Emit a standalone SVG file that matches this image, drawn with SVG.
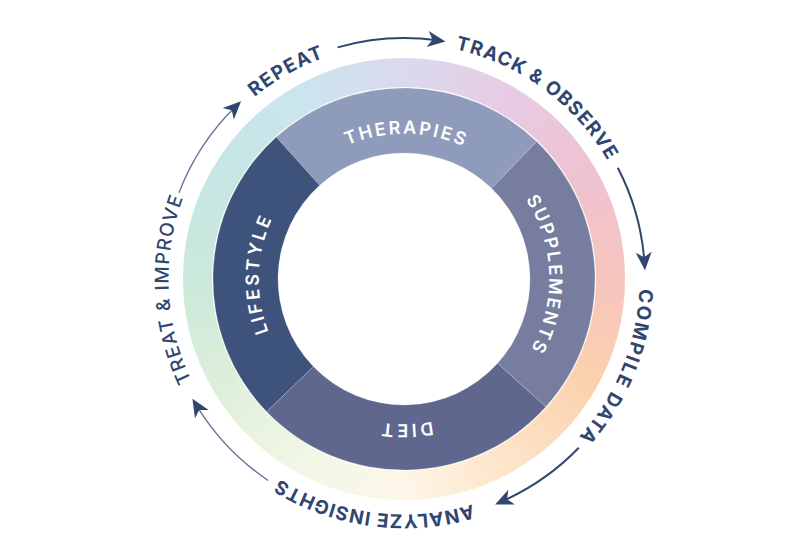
<svg xmlns="http://www.w3.org/2000/svg" xmlns:xlink="http://www.w3.org/1999/xlink" width="805" height="552" viewBox="0 0 805 552">
<style>
.seg{stroke:#ffffff;stroke-opacity:0.25;stroke-width:0.8}
.inlbl{font-family:Inter,"Noto Sans",sans-serif;font-size:18px;font-weight:600;fill:#ffffff}
.outlbl{font-family:Inter,"Noto Sans",sans-serif;font-size:19px;font-weight:700;fill:#2f4670}
.outlbl.light{font-weight:500}
.arr{fill:none;stroke:#2f4670;stroke-width:2}
.arr.thin{stroke:#66759a;stroke-width:1.4}
</style>
<defs>
<linearGradient id="g0" gradientUnits="userSpaceOnUse" x1="206.5" y1="0" x2="178.83" y2="103.25"><stop offset="0" stop-color="#f7c4bd"/><stop offset="1" stop-color="#fbd2ae"/></linearGradient>
<linearGradient id="g1" gradientUnits="userSpaceOnUse" x1="206.5" y1="0" x2="178.83" y2="103.25"><stop offset="0" stop-color="#fbd2ae"/><stop offset="1" stop-color="#fde4c9"/></linearGradient>
<linearGradient id="g2" gradientUnits="userSpaceOnUse" x1="206.5" y1="0" x2="178.83" y2="103.25"><stop offset="0" stop-color="#fde4c9"/><stop offset="1" stop-color="#fdf6e8"/></linearGradient>
<linearGradient id="g3" gradientUnits="userSpaceOnUse" x1="206.5" y1="0" x2="178.83" y2="103.25"><stop offset="0" stop-color="#fdf6e8"/><stop offset="1" stop-color="#f1f7e6"/></linearGradient>
<linearGradient id="g4" gradientUnits="userSpaceOnUse" x1="206.5" y1="0" x2="178.83" y2="103.25"><stop offset="0" stop-color="#f1f7e6"/><stop offset="1" stop-color="#ddefda"/></linearGradient>
<linearGradient id="g5" gradientUnits="userSpaceOnUse" x1="206.5" y1="0" x2="178.83" y2="103.25"><stop offset="0" stop-color="#ddefda"/><stop offset="1" stop-color="#cbe9da"/></linearGradient>
<linearGradient id="g6" gradientUnits="userSpaceOnUse" x1="206.5" y1="0" x2="178.83" y2="103.25"><stop offset="0" stop-color="#cbe9da"/><stop offset="1" stop-color="#c5e6e4"/></linearGradient>
<linearGradient id="g7" gradientUnits="userSpaceOnUse" x1="206.5" y1="0" x2="178.83" y2="103.25"><stop offset="0" stop-color="#c5e6e4"/><stop offset="1" stop-color="#cbe5ed"/></linearGradient>
<linearGradient id="g8" gradientUnits="userSpaceOnUse" x1="206.5" y1="0" x2="178.83" y2="103.25"><stop offset="0" stop-color="#cbe5ed"/><stop offset="1" stop-color="#dad9ee"/></linearGradient>
<linearGradient id="g9" gradientUnits="userSpaceOnUse" x1="206.5" y1="0" x2="178.83" y2="103.25"><stop offset="0" stop-color="#dad9ee"/><stop offset="1" stop-color="#e7cbe3"/></linearGradient>
<linearGradient id="g10" gradientUnits="userSpaceOnUse" x1="206.5" y1="0" x2="178.83" y2="103.25"><stop offset="0" stop-color="#e7cbe3"/><stop offset="1" stop-color="#efc2d2"/></linearGradient>
<linearGradient id="g11" gradientUnits="userSpaceOnUse" x1="206.5" y1="0" x2="178.83" y2="103.25"><stop offset="0" stop-color="#efc2d2"/><stop offset="1" stop-color="#f7c4bd"/></linearGradient>
<path id="sec" d="M220.99,-1.93 A221,221 0 0 1 190.42,112.17 L165.43,97.45 A192,192 0 0 0 191.99,-1.68 Z"/>
<path id="inCircle" d="M-102.53,-102.53 A145,145 0 1 1 102.53,102.53 A145,145 0 1 1 -102.53,-102.53"/>
<path id="outCircle" d="M-192.92,-135.08 A235.5,235.5 0 1 1 192.92,135.08 A235.5,235.5 0 1 1 -192.92,-135.08"/>
<marker id="head" viewBox="-12 -9 22 18" markerWidth="22" markerHeight="18" refX="0" refY="0" orient="auto" markerUnits="userSpaceOnUse"><path d="M8,0 L-10,-8 L-5,0 L-10,8 Z" fill="#2f4670"/></marker>
</defs>
<rect width="805" height="552" fill="#ffffff"/>
<g transform="translate(404,279)">
<g id="ring">
<use href="#sec" fill="url(#g0)"/>
<use href="#sec" transform="rotate(30)" fill="url(#g1)"/>
<use href="#sec" transform="rotate(60)" fill="url(#g2)"/>
<use href="#sec" transform="rotate(90)" fill="url(#g3)"/>
<use href="#sec" transform="rotate(120)" fill="url(#g4)"/>
<use href="#sec" transform="rotate(150)" fill="url(#g5)"/>
<use href="#sec" transform="rotate(180)" fill="url(#g6)"/>
<use href="#sec" transform="rotate(210)" fill="url(#g7)"/>
<use href="#sec" transform="rotate(240)" fill="url(#g8)"/>
<use href="#sec" transform="rotate(270)" fill="url(#g9)"/>
<use href="#sec" transform="rotate(300)" fill="url(#g10)"/>
<use href="#sec" transform="rotate(330)" fill="url(#g11)"/>
</g>
<g id="therapies">
<path class="seg" fill="#8f9bbb" d="M-127.80,-141.94 A191,191 0 0 1 132.68,-137.39 L87.53,-90.64 A126,126 0 0 0 -84.31,-93.64 Z"/>
<text class="inlbl"><textPath href="#inCircle" xlink:href="#inCircle" startOffset="115.15" text-anchor="middle" textLength="119" lengthAdjust="spacing">THERAPIES</textPath></text>
</g>
<g id="supplements">
<path class="seg" fill="#767d9e" d="M132.68,-137.39 A191,191 0 0 1 141.94,127.80 L93.64,84.31 A126,126 0 0 0 87.53,-90.64 Z"/>
<text class="inlbl"><textPath href="#inCircle" xlink:href="#inCircle" startOffset="336.58" text-anchor="middle" textLength="157" lengthAdjust="spacing">SUPPLEMENTS</textPath></text>
</g>
<g id="diet">
<path class="seg" fill="#5f678f" d="M141.94,127.80 A191,191 0 0 1 -137.39,132.68 L-90.64,87.53 A126,126 0 0 0 93.64,84.31 Z"/>
<text class="inlbl"><textPath href="#inCircle" xlink:href="#inCircle" startOffset="566.88" text-anchor="middle" textLength="50" lengthAdjust="spacing">DIET</textPath></text>
</g>
<g id="lifestyle">
<path class="seg" fill="#3e537c" d="M-137.39,132.68 A191,191 0 0 1 -127.80,-141.94 L-84.31,-93.64 A126,126 0 0 0 -90.64,87.53 Z"/>
<text class="inlbl"><textPath href="#inCircle" xlink:href="#inCircle" startOffset="802.24" text-anchor="middle" textLength="116" lengthAdjust="spacing">LIFESTYLE</textPath></text>
</g>
<g id="repeat">
<text class="outlbl"><textPath href="#outCircle" xlink:href="#outCircle" startOffset="104.2" text-anchor="middle" textLength="80" lengthAdjust="spacing">REPEAT</textPath></text>
</g>
<g id="track-observe">
<text class="outlbl"><textPath href="#outCircle" xlink:href="#outCircle" startOffset="374.66" text-anchor="middle" textLength="194" lengthAdjust="spacing">TRACK &amp; OBSERVE</textPath></text>
</g>
<g id="compile-data">
<text class="outlbl"><textPath href="#outCircle" xlink:href="#outCircle" startOffset="687.04" text-anchor="middle" textLength="163" lengthAdjust="spacing">COMPILE DATA</textPath></text>
</g>
<g id="analyze-insights">
<text class="outlbl"><textPath href="#outCircle" xlink:href="#outCircle" startOffset="996.34" text-anchor="middle" textLength="200" lengthAdjust="spacing">ANALYZE INSIGHTS</textPath></text>
</g>
<g id="treat-improve">
<text class="outlbl light"><textPath href="#outCircle" xlink:href="#outCircle" startOffset="1324.13" text-anchor="middle" textLength="188" lengthAdjust="spacing">TREAT &amp; IMPROVE</textPath></text>
</g>
<g id="connectors">
<path class="arr" marker-end="url(#head)" d="M-66.43,-231.66 A241,241 0 0 1 33.54,-238.65"/>
<path class="arr" marker-end="url(#head)" d="M213.77,-111.28 A241,241 0 0 1 240.41,-16.81"/>
<path class="arr" marker-end="url(#head)" d="M174.80,168.80 A243,243 0 0 1 98.45,222.16"/>
<path class="arr thin" marker-end="url(#head)" d="M-135.88,201.46 A243,243 0 0 1 -207.41,126.61"/>
<path class="arr thin" marker-end="url(#head)" d="M-224.99,-86.37 A241,241 0 0 1 -168.62,-172.19"/>
</g>
</g>
</svg>
